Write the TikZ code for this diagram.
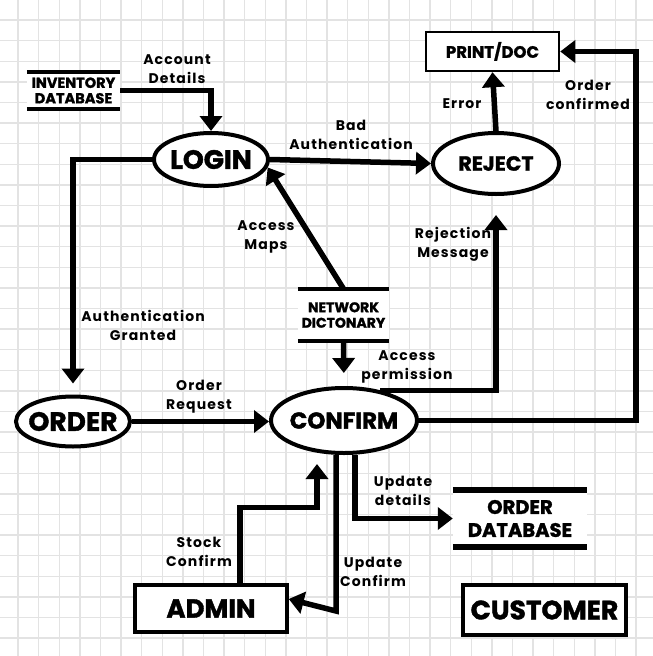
\documentclass[tikz,border=0pt]{standalone}
\usepackage{fontspec}
\setmainfont{Poppins}
\newfontfamily\labfont[LetterSpace=8]{Poppins}
\newfontfamily\heavyfont[FakeBold=1.5]{Poppins}
\usetikzlibrary{arrows.meta,shapes.geometric,calc}
\begin{document}
\begin{tikzpicture}[x=1pt,y=-1pt,
  gridline/.style={draw=black!11, line width=1.4pt},
  flow/.style={line width=5.5pt, -{Triangle[width=22pt,length=15pt]}},
  proc/.style={ellipse, draw, line width=4pt, fill=white, inner sep=0pt},
  ent/.style={rectangle, draw, fill=white, inner sep=0pt},
  store/.style={rectangle, fill=white, inner sep=0pt, align=center},
  lab/.style={align=center, inner sep=0pt, font=\labfont\bfseries\fontsize{14}{19}\selectfont},
]
\useasboundingbox[fill=white] (0,0) rectangle (653,656);
\foreach \k in {0,...,30} {
  \draw[gridline] ({18+20.6*\k},0) -- ({18+20.6*\k},656);
  \draw[gridline] (0,{20+20.6*\k}) -- (653,{20+20.6*\k});
}
\coordinate (rt) at (636,0);

% processes
\node[proc, minimum width=114pt, minimum height=53pt, label={[font=\heavyfont\bfseries\fontsize{26.5}{30}\selectfont]center:LOGIN}] (login) at (211,159.5) {};
\node[proc, minimum width=114pt, minimum height=50pt, label={[font=\heavyfont\bfseries\fontsize{26.5}{30}\selectfont]center:ORDER}] (order) at (73,421.5) {};
\node[proc, minimum width=146pt, minimum height=65pt, label={[font=\heavyfont\bfseries\fontsize{23}{26}\selectfont]center:CONFIRM}] (confirm) at (344,420.5) {};
\node[proc, minimum width=126pt, minimum height=61pt, label={[font=\heavyfont\bfseries\fontsize{20.5}{24}\selectfont]center:REJECT}] (reject) at (496,163.5) {};

% entities
\node[ent, line width=2.5pt, minimum width=133pt, minimum height=39pt, font=\heavyfont\bfseries\fontsize{16.5}{20}\selectfont] (print) at (492.5,51.5) {PRINT/DOC};
\node[ent, line width=3.5pt, minimum width=152pt, minimum height=47pt, font=\heavyfont\bfseries\fontsize{26}{30}\selectfont] (admin) at (211,608.5) {ADMIN};
\node[ent, line width=3.5pt, minimum width=163pt, minimum height=50pt, font=\heavyfont\bfseries\fontsize{26.5}{30}\selectfont] (customer) at (544.5,610) {CUSTOMER};

% data stores
\node[store, minimum width=93pt, minimum height=37pt, font=\heavyfont\bfseries\fontsize{14.5}{15.5}\selectfont] (inv) at (73.5,90.5) {INVENTORY\\DATABASE};
\node[store, minimum width=91pt, minimum height=52pt, font=\heavyfont\bfseries\fontsize{14}{15.5}\selectfont] (nd) at (343.5,315) {NETWORK\\DICTONARY};
\node[store, minimum width=134pt, minimum height=57pt, font=\heavyfont\bfseries\fontsize{19.5}{23}\selectfont] (odb) at (520,518.5) {ORDER\\DATABASE};
\draw[line width=3.5pt] (inv.north west) -- (inv.north east) (inv.south west) -- (inv.south east);
\draw[line width=3.5pt] (nd.north west) -- (nd.north east) (nd.south west) -- (nd.south east);
\draw[line width=6pt] (odb.north west) -- (odb.north east) (odb.south west) -- (odb.south east);

% flows
\draw[flow] (inv.east) -| (login.north);
\draw[flow, shorten >=11pt] (login.west) -| (order.north);
\draw[flow] (order.east) -- (order.east -| confirm.west);
\draw[flow] (login.east) -- (reject.west);
\draw[flow] (reject.north) -- (print.south);
\draw[flow] (nd.north) -- (login.-8);
\draw[flow, shorten >=13pt] (nd.south) -- (confirm.north);
\draw[flow, shorten >=19pt] (confirm.40) -| (reject.south);
\draw[flow] (confirm.east) -- (confirm.east -| rt) |- (print.east);
\draw[flow] ([xshift=11pt]confirm.south) |- (odb.west);
\draw[flow] ([xshift=-8pt]confirm.south) -- ++(0,156) -- ([yshift=9.5pt]admin.east);
\draw[flow, shorten >=9pt] ([xshift=29pt]admin.north) -- ++(0,-76) -| ([xshift=-27pt]confirm.south);

% labels
\node[lab] (l1) at (177,69) {Account\\Details};
\node[lab] (l2) at (351,134.5) {Bad\\Authentication};
\node[lab] (l3) at (462,104) {Error};
\node[lab] (l4) at (588,94.5) {Order\\confirmed};
\node[lab] (l5) at (266,236.5) {Access\\Maps};
\node[lab] (l6) at (453,244) {Rejection\\Message};
\node[lab] (l7) at (143,325) {Authentication\\Granted};
\node[lab] (l8) at (407,366.5) {Access\\permission};
\node[lab] (l9) at (199,397) {Order\\Request};
\node[lab] (l10) at (403,491) {Update\\details};
\node[lab] (l11) at (199,552) {Stock\\Confirm};
\node[lab] (l12) at (373,572) {Update\\Confirm};
\end{tikzpicture}
\end{document}
